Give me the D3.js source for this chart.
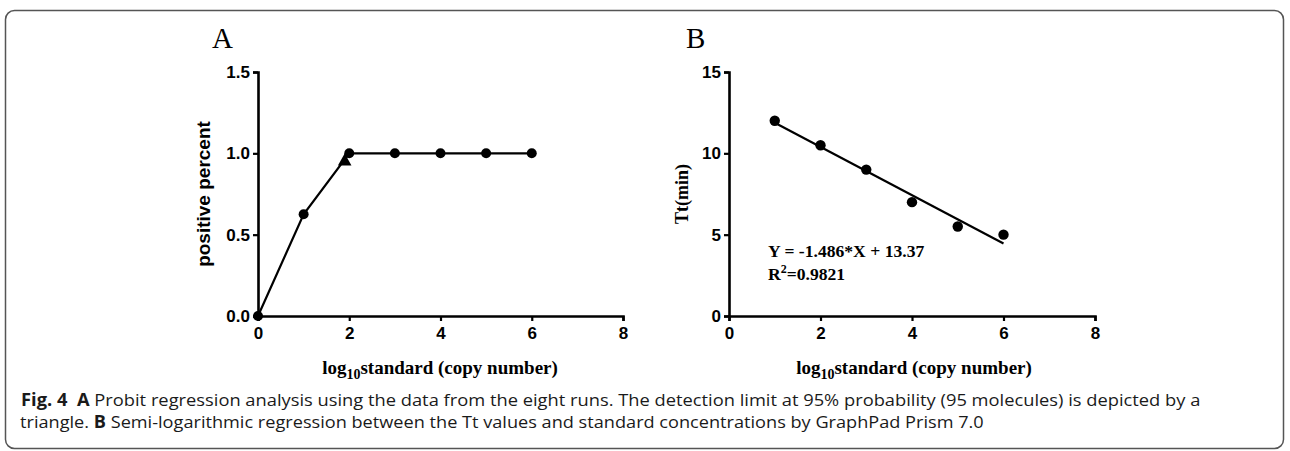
<!DOCTYPE html>
<html><head><meta charset="utf-8">
<script src="https://cdn.jsdelivr.net/npm/d3@7"></script>
<style>body{margin:0;background:#fff}svg{display:block}</style>
</head><body>
<svg id="c" width="1290" height="451"></svg>
<script>
// ---- data ----
const xTicks = [0, 2, 4, 6, 8];
const yTicksA = [0, 0.5, 1.0, 1.5];
const yTicksB = [0, 5, 10, 15];
const xA = [0, 1, 2, 3, 4, 5, 6];
const yA = [0, 0.625, 1, 1, 1, 1, 1];
const limitX = [1.9];
const limitY = [0.95];
const xB = [1, 2, 3, 4, 5, 6];
const yB = [12, 10.5, 9, 7, 5.5, 5];
const fitSlope = -1.486, fitIntercept = 13.37;
const fitRange = [1, 6];
const captionLine1 = [["Fig. 4\u00a0\u00a0", true], ["A", true], [" Probit regression analysis using the data from the eight runs. The detection limit at 95% probability (95 molecules) is depicted by a", false]];
const captionLine2 = [["triangle. ", false], ["B", true], [" Semi-logarithmic regression between the Tt values and standard concentrations by GraphPad Prism 7.0", false]];

const svg = d3.select("#c");
svg.append("rect").attr("x", 5.5).attr("y", 10.5).attr("width", 1278).attr("height", 438)
  .attr("rx", 9).attr("fill", "none").attr("stroke", "#555").attr("stroke-width", 1.5);

const sans = "Liberation Sans, Arial, sans-serif";
const serif = "Liberation Serif, Times New Roman, serif";

function panel(opt) {
  const g = svg.append("g");
  const x = d3.scaleLinear().domain([0, 8]).range([opt.x0, opt.x1]);
  const y = d3.scaleLinear().domain(opt.yDomain).range([316, 72]);
  const xa = g.append("g").attr("transform", "translate(0,316)")
    .call(d3.axisBottom(x).tickValues(xTicks).tickSize(5).tickPadding(6).tickFormat(d3.format("d")));
  const ya = g.append("g").attr("transform", `translate(${opt.x0},0)`)
    .call(d3.axisLeft(y).tickValues(opt.yTicks).tickSize(5).tickPadding(3).tickFormat(opt.yFmt));
  [xa, ya].forEach(a => {
    a.select(".domain").attr("stroke", "#000").attr("stroke-width", 2.6);
    a.selectAll(".tick line").attr("stroke", "#000").attr("stroke-width", 2.2);
    a.selectAll(".tick text").attr("fill", "#000").attr("font-family", sans)
      .attr("font-weight", "bold").attr("font-size", 17);
  });
  // panel letter
  g.append("text").attr("x", opt.letterX).attr("y", 48).attr("font-family", serif)
    .attr("font-size", 29).attr("fill", "#000").text(opt.letter);
  // x title
  const xt = g.append("text").attr("x", opt.xTitleX).attr("y", 374).attr("text-anchor", "middle")
    .attr("font-family", serif).attr("font-weight", "bold").attr("font-size", 19).attr("fill", "#000");
  xt.append("tspan").text("log");
  xt.append("tspan").attr("dy", 5).attr("font-size", 14).text("10");
  xt.append("tspan").attr("dy", -5).text("standard (copy number)");
  // y title
  g.append("text").attr("transform", `translate(${opt.yTitleX},194) rotate(-90)`)
    .attr("text-anchor", "middle").attr("font-family", opt.yTitleFont)
    .attr("font-weight", "bold").attr("font-size", opt.yTitleSize).attr("fill", "#000").text(opt.yTitle);
  return {g, x, y};
}

// Panel A
const A = panel({x0: 258, x1: 623, yDomain: [0, 1.5], yTicks: yTicksA, yFmt: d3.format(".1f"),
  letter: "A", letterX: 212, xTitleX: 440, yTitleX: 210, yTitle: "positive percent",
  yTitleFont: sans, yTitleSize: 19});
const ptsA = xA.map((d, i) => [d, yA[i]]);
A.g.append("path").datum(ptsA)
  .attr("d", d3.line().x(d => A.x(d[0])).y(d => A.y(d[1])))
  .attr("fill", "none").attr("stroke", "#000").attr("stroke-width", 2.2);
A.g.selectAll("circle.pa").data(ptsA).join("circle").attr("class", "pa")
  .attr("cx", d => A.x(d[0])).attr("cy", d => A.y(d[1])).attr("r", 5).attr("fill", "#000");
A.g.selectAll("path.tri").data(limitX.map((d, i) => [d, limitY[i]])).join("path").attr("class", "tri")
  .attr("d", d3.symbol().type(d3.symbolTriangle).size(80))
  .attr("transform", d => `translate(${A.x(d[0])},${A.y(d[1])})`).attr("fill", "#000");

// Panel B
const B = panel({x0: 729, x1: 1095, yDomain: [0, 15], yTicks: yTicksB, yFmt: d3.format("d"),
  letter: "B", letterX: 686, xTitleX: 914, yTitleX: 688, yTitle: "Tt(min)",
  yTitleFont: serif, yTitleSize: 18});
const fitPts = fitRange.map(v => [v, fitSlope * v + fitIntercept]);
B.g.append("path").datum(fitPts)
  .attr("d", d3.line().x(d => B.x(d[0])).y(d => B.y(d[1])))
  .attr("fill", "none").attr("stroke", "#000").attr("stroke-width", 2.2);
B.g.selectAll("circle.pb").data(xB.map((d, i) => [d, yB[i]])).join("circle").attr("class", "pb")
  .attr("cx", d => B.x(d[0])).attr("cy", d => B.y(d[1])).attr("r", 5.2).attr("fill", "#000");
B.g.append("text").attr("x", 768).attr("y", 257).attr("font-family", serif).attr("font-weight", "bold")
  .attr("font-size", 17.6).attr("fill", "#000").text(`Y = ${fitSlope}*X + ${fitIntercept}`);
const r2 = B.g.append("text").attr("x", 768).attr("y", 280).attr("font-family", serif).attr("font-weight", "bold")
  .attr("font-size", 17.6).attr("fill", "#000");
r2.append("tspan").text("R");
r2.append("tspan").attr("dy", -7).attr("font-size", 12).text("2");
r2.append("tspan").attr("dy", 7).text("=0.9821");

// Caption
function caption(parts, xPos, yPos, target) {
  const t = svg.append("text").attr("x", xPos).attr("y", yPos)
    .attr("font-family", "Open Sans, Noto Sans, sans-serif").attr("font-size", 17).attr("fill", "#1a1a1a");
  parts.forEach(p => t.append("tspan").attr("font-weight", p[1] ? "bold" : "normal").text(p[0]));
  const w = t.node().getComputedTextLength();
  const s = target / w;
  t.attr("x", 0).attr("y", 0).attr("transform", `translate(${xPos},${yPos}) scale(${s},1)`);
}
caption(captionLine1, 21, 406, 1180);
caption(captionLine2, 20, 428, 964);
</script>
</body></html>
